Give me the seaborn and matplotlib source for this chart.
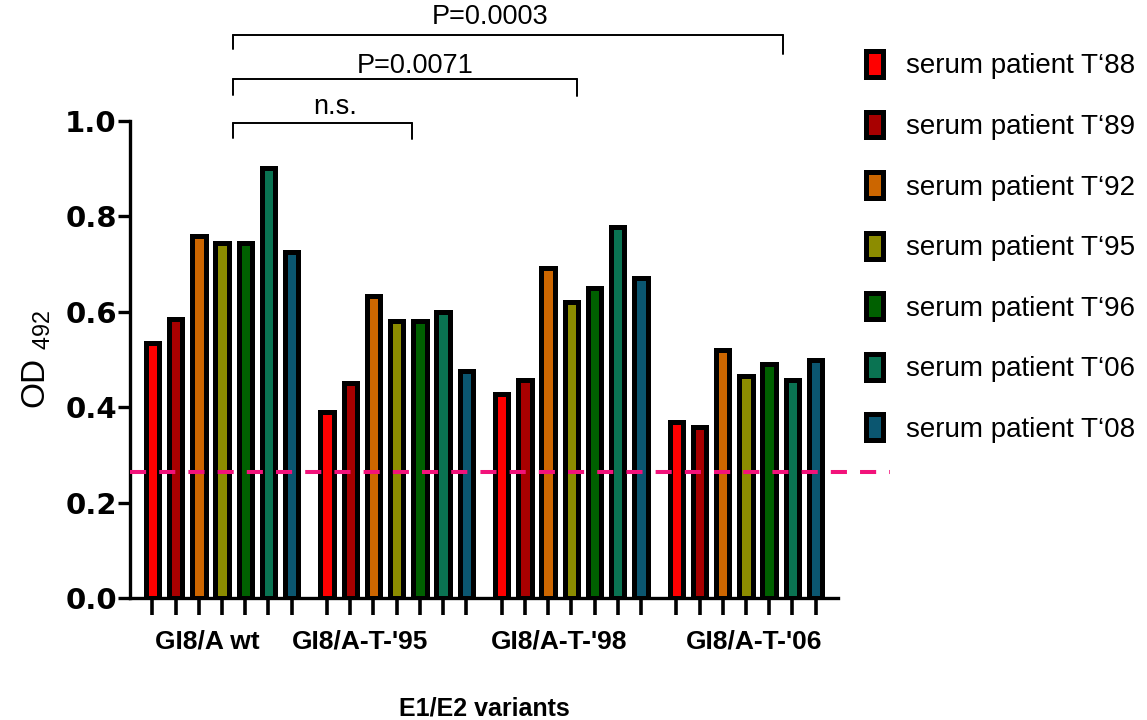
import matplotlib
matplotlib.use("Agg")
import matplotlib.pyplot as plt
import seaborn as sns
import pandas as pd
import numpy as np

variants = ["GI8/A wt", "GI8/A-T-'95", "GI8/A-T-'98", "GI8/A-T-'06"]
sera = ["serum patient T\u201888", "serum patient T\u201889", "serum patient T\u201892",
        "serum patient T\u201895", "serum patient T\u201896", "serum patient T\u201806",
        "serum patient T\u201808"]
colors = ["#FF0000", "#A80000", "#CC6600", "#8C8C00", "#006000", "#0A7352", "#0B5670"]

od_t88 = [0.535, 0.390, 0.428, 0.370]
od_t89 = [0.585, 0.450, 0.458, 0.358]
od_t92 = [0.758, 0.633, 0.692, 0.520]
od_t95 = [0.745, 0.580, 0.620, 0.465]
od_t96 = [0.745, 0.580, 0.650, 0.490]
od_t06 = [0.902, 0.600, 0.778, 0.458]
od_t08 = [0.725, 0.475, 0.670, 0.500]
cutoff = 0.265

brackets = [("n.s.", 0.0, 1.0), ("P=0.0071", 0.0, 2.0), ("P=0.0003", 0.0, 3.0)]

series = [od_t88, od_t89, od_t92, od_t95, od_t96, od_t06, od_t08]
rows = []
for s, vals in zip(sera, series):
    for v, val in zip(variants, vals):
        rows.append({"variant": v, "serum": s, "od": val})
df = pd.DataFrame(rows)

sns.set_style("ticks")
plt.rcParams["font.family"] = ["Liberation Sans", "DejaVu Sans"]
plt.rcParams["mathtext.fontset"] = "custom"
plt.rcParams["mathtext.rm"] = "Liberation Sans"
plt.rcParams["mathtext.it"] = "Liberation Sans:italic"
for k in ["text.color", "axes.labelcolor", "xtick.color", "ytick.color", "axes.edgecolor"]:
    plt.rcParams[k] = "black"

fig = plt.figure(figsize=(11.47, 7.2), dpi=100)
ax = fig.add_axes([130 / 1147, 1 - 598 / 720, (838 - 130) / 1147, (598 - 121) / 720])

sns.barplot(data=df, x="variant", y="od", hue="serum", order=variants, hue_order=sera,
            palette=colors, width=0.93, gap=0.42, edgecolor="black", linewidth=3.6,
            saturation=1, ax=ax, legend=True, errorbar=None)

ax.set_xlim(-0.527, 3.527)
ax.set_ylim(0, 1.0)

centers = sorted(p.get_x() + p.get_width() / 2 for p in ax.patches if p.get_height() > 0)
ax.set_xticks(centers, minor=True)
label_off = [-0.087, -0.21, -0.068, 0.046]
ax.set_xticks([i + o for i, o in enumerate(label_off)])
ax.set_xticklabels(variants, fontsize=19, fontweight="bold")
ax.tick_params(axis="x", which="major", length=0, pad=23)
ax.tick_params(axis="x", which="minor", length=12, width=2.6, color="black")
ax.set_yticks([0.0, 0.2, 0.4, 0.6, 0.8, 1.0])
ax.set_yticklabels(["0.0", "0.2", "0.4", "0.6", "0.8", "1.0"], fontsize=21,
                   fontweight="bold", family="DejaVu Sans")
ax.tick_params(axis="y", length=9, width=2.4, pad=0.5)
for sp in ["top", "right"]:
    ax.spines[sp].set_visible(False)
for sp in ["left", "bottom"]:
    ax.spines[sp].set_linewidth(2.4)

ax.set_xlabel("E1/E2 variants", fontsize=18, fontweight="bold", labelpad=31)
ax.set_ylabel("OD $_{492}$", fontsize=24, labelpad=9)

ax.plot([-0.527, 3.824], [cutoff, cutoff], color="#F2127A", lw=2.9,
        dashes=(4, 3.25), clip_on=False, zorder=5)

specs = {
    "n.s.": dict(y=0.996, yl=0.964, yr=0.962, x0=0.063, x1=1.088, tx=0.647, ty=1.03),
    "P=0.0071": dict(y=1.088, yl=1.055, yr=1.053, x0=0.063, x1=2.033, tx=1.105, ty=1.115),
    "P=0.0003": dict(y=1.181, yl=1.151, yr=1.141, x0=0.063, x1=3.21, tx=1.534, ty=1.218),
}
for lab, a, b in brackets:
    s = specs[lab]
    ax.plot([s["x0"], s["x0"]], [s["yl"], s["y"]], color="black", lw=1.4, clip_on=False)
    ax.plot([s["x0"], s["x1"]], [s["y"], s["y"]], color="black", lw=1.4, clip_on=False)
    ax.plot([s["x1"], s["x1"]], [s["y"], s["yr"]], color="black", lw=1.4, clip_on=False)
    ax.text(s["tx"], s["ty"], lab, ha="center", va="center", fontsize=19.5, clip_on=False)

handles, labels = ax.get_legend_handles_labels()
ax.get_legend().remove()
leg = fig.legend(handles, labels, loc="upper left", bbox_to_anchor=(866 / 1147, 1 - 51 / 720),
                 frameon=False, fontsize=20, handlelength=0.62, handleheight=1.05,
                 handletextpad=0.82, labelspacing=1.16, borderpad=0, borderaxespad=0)

fig.savefig("out.png", dpi=100)
